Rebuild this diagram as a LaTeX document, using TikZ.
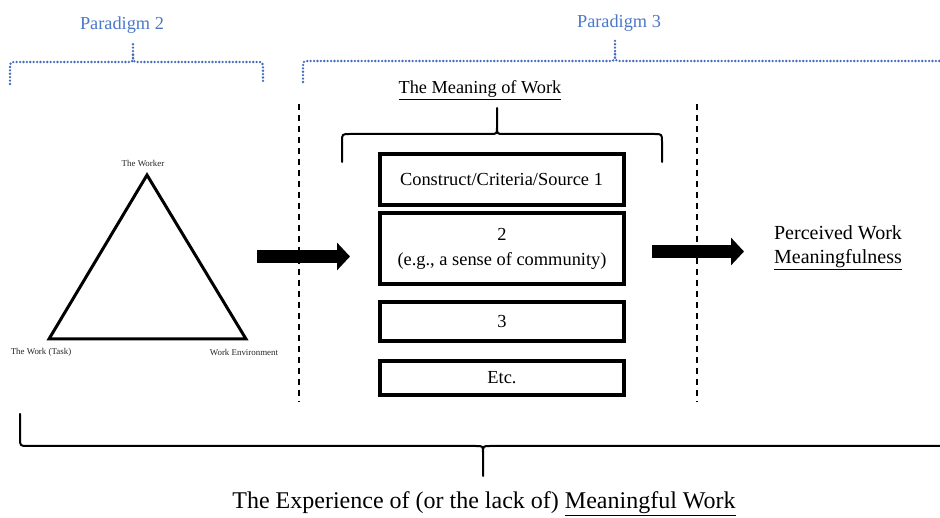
\documentclass[tikz,border=0pt]{standalone}
\usepackage{fontspec}
\setmainfont{Liberation Serif}
\usetikzlibrary{arrows.meta}
\definecolor{parablue}{RGB}{76,120,200}
\definecolor{dotblue}{RGB}{66,108,190}
\begin{document}
\begin{tikzpicture}[x=1pt,y=-1pt,
  dotbrace/.style={draw=dotblue, line width=2.6pt, line cap=round, dash pattern=on 0pt off 3.4pt},
  solidbrace/.style={draw=black, line width=2pt, line cap=round, line join=round},
  divider/.style={draw=black, line width=2pt, dash pattern=on 6.5pt off 4.5pt},
  stepbox/.style={draw=black, line width=4pt, minimum width=244pt, inner sep=0pt,
    align=center, font=\fontsize{18.4}{25}\selectfont},
  blockarrow/.style={draw=black, line width=13pt,
    -{Triangle[length=13pt,width=27pt]}},
  paralabel/.style={text=parablue, inner sep=0pt, font=\fontsize{18.3}{22}\selectfont},
  cornerlabel/.style={inner sep=0pt, text=black!85, font=\fontsize{8.9}{10}\selectfont},
]
\clip (0,0) rectangle (940,518);
\fill[white] (0,0) rectangle (940,518);

% paradigm labels and dotted braces
\node[paralabel] (p2) at (122,25) {Paradigm 2};
\node[paralabel] (p3) at (619,23) {Paradigm 3};
\draw[dotbrace] (10,84) -- (10,69) .. controls (10,62) .. (17,62) -- (126,62)
  .. controls (133,62) .. (133,55) -- (133,41)
  (133,55) .. controls (133,62) .. (140,62) -- (256,62)
  .. controls (263,62) .. (263,69) -- (263,84);
\draw[dotbrace] (303,82) -- (303,68) .. controls (303,61) .. (310,61) -- (608,61)
  .. controls (615,61) .. (615,54) -- (615,39)
  (615,54) .. controls (615,61) .. (622,61) -- (960,61);

% dashed dividers
\coordinate (d1t) at (298.5,104);
\coordinate (d1b) at (298.5,402);
\coordinate (d2t) at (697,104);
\coordinate (d2b) at (697,402);
\draw[divider] (d1t) -- (d1b);
\draw[divider] (d2t) -- (d2b);

% triangle of worker, work and environment
\coordinate (tw) at (147,175);
\coordinate (tl) at (49,339);
\coordinate (tr) at (246,339);
\draw[line width=3pt, line join=miter] (tw) -- (tl) -- (tr) -- cycle;
\node[cornerlabel] (worker) at (143,163) {The Worker};
\node[cornerlabel] (task) at (41,352) {The Work (Task)};
\node[cornerlabel] (env) at (244,352) {Work Environment};

% meaning of work
\node[inner sep=0pt, font=\fontsize{18.3}{22}\selectfont] (mow) at (480,90) {\underline{The Meaning of Work}};
\draw[solidbrace] (342,162) -- (342,142) .. controls (342,134) .. (350,134) -- (490,134)
  .. controls (497,134) .. (497,127) -- (497,108)
  (497,127) .. controls (497,134) .. (504,134) -- (654,134)
  .. controls (662,134) .. (662,142) -- (662,162);

\node[stepbox, minimum height=51pt] (b1) at (501.5,179.5) {Construct/Criteria/Source 1};
\node[stepbox, minimum height=71pt] (b2) at (502,248.5) {2\\(e.g., a sense of community)};
\node[stepbox, minimum height=39pt] (b3) at (502,321.5) {3};
\node[stepbox, minimum height=34pt] (b4) at (502,378) {Etc.};

% block arrows
\coordinate (a1s) at (257,256.5);
\coordinate (a1e) at (350,256.5);
\coordinate (a2s) at (652,251.5);
\coordinate (a2e) at (744,251.5);
\draw[blockarrow] (a1s) -- (a1e);
\draw[blockarrow] (a2s) -- (a2e);

% outcome
\node[inner sep=0pt, align=center, font=\fontsize{20}{24}\selectfont] (pwm) at (838,248)
  {Perceived Work\\\underline{Meaningfulness}};

% overall brace and caption
\draw[solidbrace] (20,414) -- (20,438) .. controls (20,446) .. (28,446) -- (476,446)
  .. controls (483,446) .. (483,453) -- (483,476)
  (483,453) .. controls (483,446) .. (490,446) -- (960,446);
\node[inner sep=0pt, font=\fontsize{24}{28}\selectfont] (exp) at (484,504)
  {The Experience of (or the lack of) \underline{Meaningful Work}};
\end{tikzpicture}
\end{document}
